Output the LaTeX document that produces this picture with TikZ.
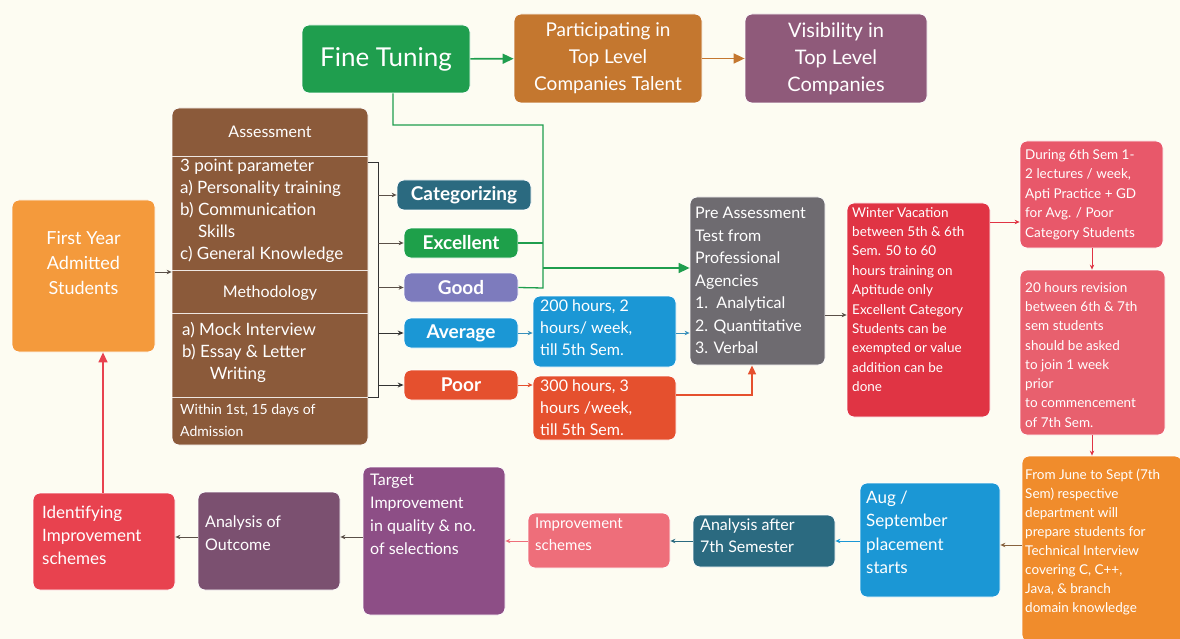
\documentclass[tikz,border=0pt]{standalone}
\usepackage{fontspec}
\setmainfont{Lato}
\usetikzlibrary{arrows.meta}
\definecolor{bg}{HTML}{FDFCF2}
\definecolor{cFine}{HTML}{1F9E4E}
\definecolor{cPart}{HTML}{C4772F}
\definecolor{cVis}{HTML}{8F5A7A}
\definecolor{cBrown}{HTML}{8B5A3A}
\definecolor{cCat}{HTML}{2B6A80}
\definecolor{cExc}{HTML}{1EA04A}
\definecolor{cGood}{HTML}{7D7BBD}
\definecolor{cBlue}{HTML}{1B97D5}
\definecolor{cPoor}{HTML}{E5502E}
\definecolor{cPre}{HTML}{6E6B70}
\definecolor{cWinter}{HTML}{E03444}
\definecolor{cDuring}{HTML}{E8586A}
\definecolor{cTwenty}{HTML}{E8606E}
\definecolor{cJune}{HTML}{F08C2C}
\definecolor{cImp}{HTML}{EE6E7A}
\definecolor{cTarget}{HTML}{8D4E86}
\definecolor{cOut}{HTML}{7B5070}
\definecolor{cIdent}{HTML}{E8424F}
\definecolor{cFirst}{HTML}{F49A3C}
\definecolor{cLine}{HTML}{5A5048}
\newcommand\fsz[2]{\fontsize{#1}{#2}\selectfont}
\begin{document}
\begin{tikzpicture}[x=1pt,y=-1pt,
  box/.style={rounded corners=7pt, draw=white, line width=0.8pt, inner sep=0pt},
  txt/.style={text=white, inner sep=0pt, align=left, anchor=north west},
  ctxt/.style={text=white, inner sep=0pt, align=center},
  cattxt/.style={text=white, inner sep=0pt, align=center, font=\fsz{19}{22}\bfseries},
  small/.style={-{Stealth[length=5pt,width=4.5pt]}, line width=0.8pt},
  big/.style={-{Triangle[length=11pt,width=10pt]}, line width=1.6pt},
  thin/.style={line width=0.9pt}
]
\fill[bg] (0,0) rectangle (1180,639);
\useasboundingbox (0,0) rectangle (1180,639);

% top row
\node[box, fill=cFine, minimum width=168pt, minimum height=68pt] (fine) at (386,59) {};
\node[ctxt, font=\fsz{26}{30}] (fineT) at (fine) {Fine Tuning};
\node[box, fill=cPart, minimum width=188pt, minimum height=89pt] (part) at (608,58.5) {};
\node[ctxt, font=\fsz{19}{27}] (partT) at (part) {Participating in\\Top Level\\Companies Talent};
\node[box, fill=cVis, minimum width=182pt, minimum height=89pt] (vis) at (836,58.5) {};
\node[ctxt, font=\fsz{20}{27}] (visT) at (vis) {Visibility in\\Top Level\\Companies};

% brown box
\node[box, fill=cBrown, minimum width=196pt, minimum height=337pt] (brown) at (270,276.5) {};
\node[ctxt, font=\fsz{16}{20}] (assT) at (270,132) {Assessment};
\node[txt, font=\fsz{17}{22}] (paramT) at (180,159) {3 point parameter\\a) Personality training\\b) Communication\\\hphantom{b) }Skills\\c) General Knowledge};
\node[ctxt, font=\fsz{16}{20}] (methT) at (270,293) {Methodology};
\node[txt, font=\fsz{17}{22}] (mockT) at (182,322) {a) Mock Interview\\b) Essay \& Letter\\\hphantom{b) E}Writing};
\node[txt, font=\fsz{14}{22}] (withinT) at (180,404) {Within 1st, 15 days of\\Admission};
\coordinate (b1l) at (172,157); \coordinate (b1r) at (368,157);
\coordinate (b2l) at (172,270); \coordinate (b2r) at (368,270);
\coordinate (b3l) at (172,313); \coordinate (b3r) at (368,313);
\coordinate (b4l) at (172,397); \coordinate (b4r) at (368,397);
\draw[white!85!cBrown, line width=1pt] (b1l) -- (b1r) (b2l) -- (b2r) (b3l) -- (b3r) (b4l) -- (b4r);

% first year
\node[box, fill=cFirst, minimum width=143pt, minimum height=152pt] (first) at (83.5,276) {};
\node[ctxt, font=\fsz{18}{25}] (firstT) at (83.5,263) {First Year\\Admitted\\Students};

% categories
\node[box, fill=cCat, minimum width=134pt, minimum height=30pt] (cat) at (464,195) {};
\node[cattxt] at (cat) {Categorizing};
\node[box, fill=cExc, minimum width=114pt, minimum height=30pt] (exc) at (461,243) {};
\node[cattxt] at (exc) {Excellent};
\node[box, fill=cGood, minimum width=114pt, minimum height=29pt] (good) at (461,287.5) {};
\node[cattxt] at (good) {Good};
\node[box, fill=cBlue, minimum width=114pt, minimum height=30pt] (avg) at (461,333) {};
\node[cattxt] at (avg) {Average};
\node[box, fill=cPoor, minimum width=114pt, minimum height=30pt] (poor) at (461,385) {};
\node[cattxt] at (poor) {Poor};

% hours
\node[box, fill=cBlue, minimum width=143pt, minimum height=71pt] (h200) at (604.5,331.5) {};
\node[txt, font=\fsz{16}{22}] at (540,300) {200 hours, 2\\hours/ week,\\till 5th Sem.};
\node[box, fill=cPoor, minimum width=143pt, minimum height=64pt] (h300) at (604.5,408) {};
\node[txt, font=\fsz{16}{22}] at (540,380) {300 hours, 3\\hours /week,\\till 5th Sem.};

% pre assessment
\node[box, fill=cPre, minimum width=135pt, minimum height=168pt] (pre) at (757.5,281) {};
\node[txt, font=\fsz{16}{22.5}] at (695,207) {Pre Assessment\\Test from\\Professional\\Agencies\\1.\ \ Analytical\\2. Quantitative\\3. Verbal};

% winter
\node[box, fill=cWinter, minimum width=143pt, minimum height=214pt] (winter) at (918.5,310) {};
\node[txt, font=\fsz{13.5}{19.4}] at (852,207) {Winter Vacation\\between 5th \& 6th\\Sem. 50 to 60\\hours training on\\Aptitude only\\Excellent Category\\Students can be\\exempted or value\\addition can be\\done};

% during
\node[box, fill=cDuring, minimum width=143pt, minimum height=107pt] (during) at (1091.5,194.5) {};
\node[txt, font=\fsz{13.5}{19.5}] at (1025,149) {During 6th Sem 1-\\2 lectures / week,\\Apti Practice + GD\\for Avg. / Poor\\Category Students};

% twenty
\node[box, fill=cTwenty, minimum width=145pt, minimum height=165pt] (twenty) at (1092.5,352.5) {};
\node[txt, font=\fsz{13.5}{19.3}] at (1025,282) {20 hours revision\\between 6th \& 7th\\sem students\\should be asked\\to join 1 week\\prior\\to commencement\\of 7th Sem.};

% june
\node[box, fill=cJune, minimum width=160pt, minimum height=186pt] (june) at (1102,549) {};
\node[txt, font=\fsz{13.5}{19}] at (1025,469) {From June to Sept (7th\\Sem) respective\\department will\\prepare students for\\Technical Interview\\covering C, C++,\\Java, \& branch\\domain knowledge};

% bottom row
\node[box, fill=cBlue, minimum width=140pt, minimum height=114pt] (aug) at (930,540) {};
\node[txt, font=\fsz{17}{23.2}] at (866,491) {Aug /\\September\\placement\\starts};
\node[box, fill=cCat, minimum width=142pt, minimum height=52pt] (anaft) at (764,541) {};
\node[txt, font=\fsz{16}{22}] at (700,519) {Analysis after\\7th Semester};
\node[box, fill=cImp, minimum width=142pt, minimum height=55pt] (imp) at (599,540.5) {};
\node[txt, font=\fsz{15}{22}] at (535,518) {Improvement\\schemes};
\node[box, fill=cTarget, minimum width=142pt, minimum height=148pt] (target) at (434,541) {};
\node[txt, font=\fsz{16}{23}] at (370,474) {Target\\Improvement\\in quality \& no.\\of selections};
\node[box, fill=cOut, minimum width=142pt, minimum height=98pt] (anout) at (269,541) {};
\node[txt, font=\fsz{16}{23}] at (205,516) {Analysis of\\Outcome};
\node[box, fill=cIdent, minimum width=142pt, minimum height=97pt] (ident) at (104,541.5) {};
\node[txt, font=\fsz{17}{23}] at (42,506) {Identifying\\Improvement\\schemes};

% connectors top
\draw[big, cFine] (fine) -- (part);
\draw[big, cPart] (part) -- (vis);

% green feedback / fine tuning line
\coordinate (g1) at (393,125);
\coordinate (g2) at (543,125);
\coordinate (g3) at (543,288);
\coordinate (g4) at (543,243);
\coordinate (g5) at (543,268);
\draw[cFine, line width=1.3pt] (fine.south -| g1) -- (g1) -- (g2) -- (g3) -- (good.east);
\draw[cFine, line width=1.3pt] (exc.east) -- (g4);
\draw[big, cFine] (g5) -- (g5 -| pre.west);

% bracket
\coordinate (k1) at (368,162); \coordinate (k2) at (378,162);
\coordinate (k3) at (378,397); \coordinate (k4) at (368,397);
\draw[black!80, thin] (k1) -- (k2) -- (k3) -- (k4);
\draw[small, cLine] (k2 |- cat.west) -- (cat.west);
\draw[small, cLine] (k2 |- exc.west) -- (exc.west);
\draw[small, cLine] (k2 |- good.west) -- (good.west);
\draw[-{Stealth[open,length=6pt,width=5pt]}, black!80, thin] (k2 |- avg.west) -- (avg.west);
\draw[-{Stealth[open,length=6pt,width=5pt]}, black!80, thin] (k2 |- poor.west) -- (poor.west);

\draw[small, cLine] (first.east |- 0,272) -- (brown.west |- 0,272);

% hours connectors
\draw[small, cBlue!70!gray] (avg.east) -- (h200.west |- avg.east);
\draw[small, cPoor] (poor.east) -- (h300.west |- poor.east);
\draw[small, cBlue!70!gray] (h200.east |- 0,333) -- (pre.west |- 0,333);
\coordinate (o1) at (752,395);
\draw[-{Triangle[length=9pt,width=8pt]}, cPoor, line width=1.6pt] (h300.east |- o1) -- (o1) -- (pre.south -| o1);

% right column
\draw[small, cLine] (pre.east |- 0,315) -- (winter.west |- 0,315);
\draw[small, cWinter] (winter.east |- 0,222) -- (during.west |- 0,222);
\draw[small, cWinter] (during.south -| 1092,0) -- (twenty.north -| 1092,0);
\draw[small, cWinter] (twenty.south -| 1092,0) -- (june.north -| 1092,0);

% bottom row connectors
\draw[small, cLine!70!cJune] (june.west |- 0,545) -- (aug.east |- 0,545);
\draw[small, cBlue] (aug.west |- 0,541) -- (anaft.east |- 0,541);
\draw[small, cCat] (anaft.west |- 0,541) -- (imp.east |- 0,541);
\draw[small, cImp] (imp.west |- 0,541) -- (target.east |- 0,541);
\draw[small, cLine] (target.west |- 0,537) -- (anout.east |- 0,537);
\draw[small, cLine] (anout.west |- 0,537) -- (ident.east |- 0,537);
\draw[-{Triangle[length=10pt,width=9pt]}, cIdent, line width=1.4pt] (ident.north -| 103,0) -- (first.south -| 103,0);
\end{tikzpicture}
\end{document}
